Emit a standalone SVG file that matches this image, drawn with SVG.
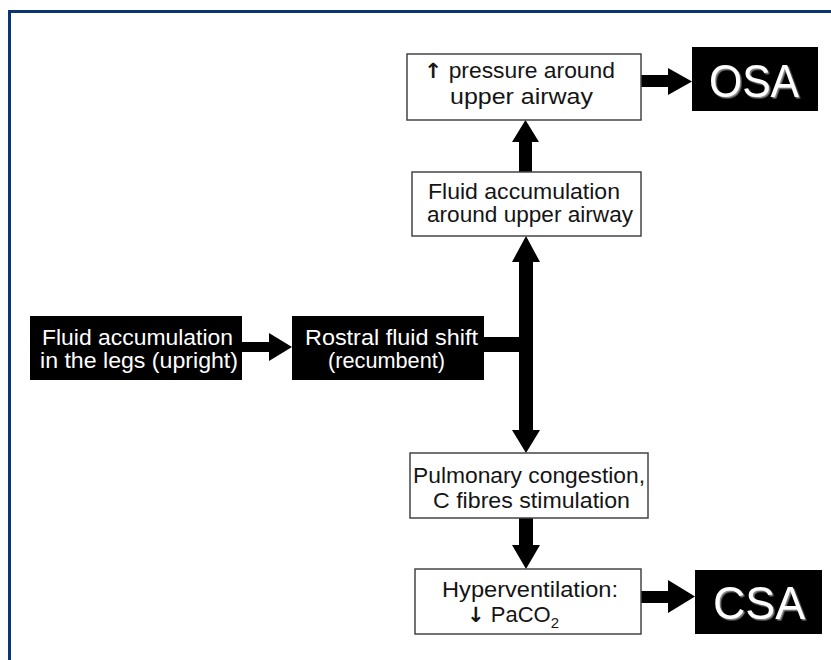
<svg xmlns="http://www.w3.org/2000/svg" width="831" height="660" viewBox="0 0 831 660">
<style>
.wbox{fill:#fff;stroke:#444;stroke-width:1.5}
.bbox{fill:#000}
.t{font-family:"Liberation Sans",Arial,sans-serif;font-size:22px;fill:#151515;text-anchor:middle}
.tw{font-family:"Liberation Sans",Arial,sans-serif;font-size:22px;fill:#fff;text-anchor:middle}
.big{font-family:"Liberation Sans",Arial,sans-serif;font-size:46px;fill:#fff;text-anchor:middle}
.ar{font-family:"DejaVu Sans",sans-serif;font-weight:bold}
.arr{fill:#000}
</style>
<defs>
<filter id="sh" x="-10%" y="-10%" width="130%" height="130%">
<feDropShadow dx="1.5" dy="1.5" stdDeviation="0.6" flood-color="#888" flood-opacity="1"/>
</filter>
</defs>
<rect x="0" y="0" width="831" height="660" fill="#fff"/>
<rect x="9.5" y="11.5" width="900" height="700" fill="none" stroke="#0b3572" stroke-width="3"/>

<g id="connectors">
<path class="arr" d="M242,342 H269 V333 L292,347 L269,361 V352 H242 Z"/>
<rect class="arr" x="484" y="337" width="49" height="15"/>
<path class="arr" d="M519,352 V262 H512 L526,236 L540,262 H533 V352 Z"/>
<path class="arr" d="M519,337 V430 H512 L526,453 L540,430 H533 V337 Z"/>
<path class="arr" d="M519,172 V142 H512 L525.5,120 L539,142 H532 V172 Z"/>
<path class="arr" d="M519,518 V545 H512 L526,569 L540,545 H533 V518 Z"/>
<path class="arr" d="M641,75 H668 V68 L692,81.5 L668,95 V87 H641 Z"/>
<path class="arr" d="M641,591 H668 V580 L695,596.5 L668,613 V603 H641 Z"/>
</g>

<g id="n_pressure">
<rect class="wbox" x="407" y="54" width="234" height="66"/>
<text class="t" x="519.5" y="78" textLength="191" lengthAdjust="spacingAndGlyphs"><tspan class="ar" font-size="21">↑</tspan> pressure around</text>
<text class="t" x="521.5" y="104" textLength="143" lengthAdjust="spacingAndGlyphs">upper airway</text>
</g>

<g id="n_osa">
<rect class="bbox" x="692" y="47" width="126" height="64"/>
<text class="big" x="754" y="97" textLength="90" lengthAdjust="spacingAndGlyphs" filter="url(#sh)">OSA</text>
</g>

<g id="n_fluid_airway">
<rect class="wbox" x="412" y="172" width="229" height="64"/>
<text class="t" x="524" y="199" textLength="192" lengthAdjust="spacingAndGlyphs">Fluid accumulation</text>
<text class="t" x="530" y="222" textLength="206" lengthAdjust="spacingAndGlyphs">around upper airway</text>
</g>

<g id="n_legs">
<rect class="bbox" x="30" y="316" width="212" height="64"/>
<text class="tw" x="137.5" y="345" textLength="191" lengthAdjust="spacingAndGlyphs">Fluid accumulation</text>
<text class="tw" x="139" y="368" textLength="198" lengthAdjust="spacingAndGlyphs">in the legs (upright)</text>
</g>

<g id="n_rostral">
<rect class="bbox" x="292" y="316" width="192" height="64"/>
<text class="tw" x="391.5" y="345" textLength="173" lengthAdjust="spacingAndGlyphs">Rostral fluid shift</text>
<text class="tw" x="386.5" y="368" textLength="117" lengthAdjust="spacingAndGlyphs">(recumbent)</text>
</g>

<g id="n_pulmonary">
<rect class="wbox" x="410" y="453" width="238" height="65"/>
<text class="t" x="529" y="483" textLength="232" lengthAdjust="spacingAndGlyphs">Pulmonary congestion,</text>
<text class="t" x="531.5" y="508" textLength="197" lengthAdjust="spacingAndGlyphs">C fibres stimulation</text>
</g>

<g id="n_hyper">
<rect class="wbox" x="415" y="569" width="226" height="65"/>
<text class="t" x="530" y="597" textLength="176" lengthAdjust="spacingAndGlyphs">Hyperventilation:</text>
<text class="t" x="467" y="622" style="text-anchor:start"><tspan class="ar" font-size="21">↓</tspan> PaCO<tspan font-size="15" dy="6">2</tspan></text>
</g>

<g id="n_csa">
<rect class="bbox" x="695" y="570" width="127" height="64"/>
<text class="big" x="759" y="619" textLength="92" lengthAdjust="spacingAndGlyphs" filter="url(#sh)">CSA</text>
</g>
</svg>
